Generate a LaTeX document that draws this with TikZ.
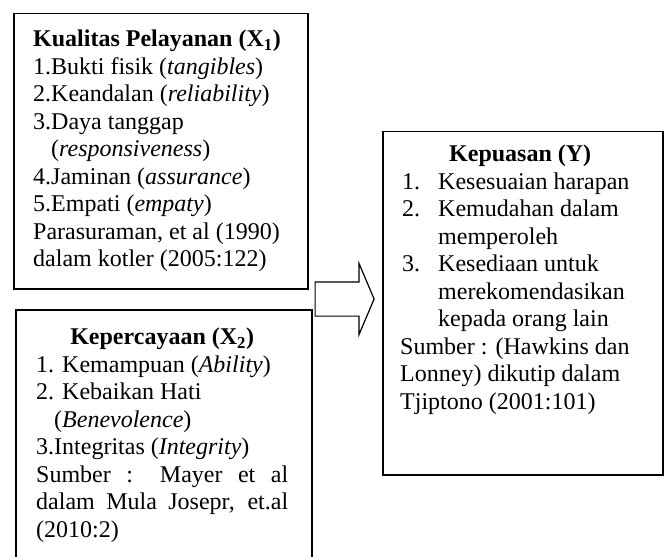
\documentclass[tikz,border=0pt]{standalone}
\usepackage{fontspec}
\setmainfont{Liberation Serif}
\usetikzlibrary{positioning,shapes.arrows}

\newcommand{\itm}[2]{\hspace*{2bp}\makebox[36bp][l]{#1}#2}
\newcommand{\cont}[1]{\hspace*{38bp}#1}

\begin{document}
\begin{tikzpicture}[
  x=1bp, y=-1bp,
  box/.style={draw, line width=1.5bp, rectangle, inner sep=0pt, anchor=north west},
  txt/.style={inner sep=0pt, anchor=north west, align=left, font=\fontsize{24bp}{27.5bp}\selectfont},
  panah/.style={single arrow, draw, line width=1.2bp, inner xsep=0pt, inner ysep=16.5bp,
    minimum height=59bp, single arrow head extend=18.5bp, single arrow tip angle=134, anchor=tail}
]
\useasboundingbox (0,0) rectangle (665,557);

\node[box, minimum width=294bp, minimum height=275bp] (kualitas) at (13,13) {};
\node[box, minimum width=296bp, minimum height=270bp] (kepercayaan) at (15,309) {};
\node[box, minimum width=280bp, minimum height=343bp] (kepuasan) at (382,131) {};

\node[txt] (kualitasT) at ([xshift=20bp,yshift=-17bp]kualitas.north west) {%
  \textbf{Kualitas Pelayanan (X\textsubscript{1})}\\
  1.Bukti fisik (\textit{tangibles})\\
  2.Keandalan (\textit{reliability})\\
  3.Daya tanggap\\
  \phantom{3.}(\textit{responsiveness})\\
  4.Jaminan (\textit{assurance})\\
  5.Empati (\textit{empaty})\\
  Parasuraman, et al (1990)\\
  dalam kotler (2005:122)};

\node[txt] (kepercayaanT) at ([xshift=21bp,yshift=-19bp]kepercayaan.north west) {%
  \makebox[252bp]{\textbf{Kepercayaan (X\textsubscript{2})}}\\
  1. Kemampuan (\textit{Ability})\\
  2. Kebaikan Hati\\
  \phantom{2.}(\textit{Benevolence})\\
  3.Integritas (\textit{Integrity})\\
  \makebox[252bp][s]{Sumber : Mayer et al}\\
  \makebox[252bp][s]{dalam Mula Josepr, et.al}\\
  (2010:2)};

\node[txt] (kepuasanT) at ([xshift=18bp,yshift=-14bp]kepuasan.north west) {%
  \makebox[240bp]{\textbf{Kepuasan (Y)}}\\
  \itm{1.}{Kesesuaian harapan}\\
  \itm{2.}{Kemudahan dalam}\\
  \cont{memperoleh}\\
  \itm{3.}{Kesediaan untuk}\\
  \cont{merekomendasikan}\\
  \cont{kepada orang lain}\\
  Sumber : (Hawkins dan\\
  Lonney) dikutip dalam\\
  Tjiptono (2001:101)};

\node[panah] (panah) at ([xshift=2bp,yshift=10bp]kepercayaan.north east) {};
\end{tikzpicture}
\end{document}
